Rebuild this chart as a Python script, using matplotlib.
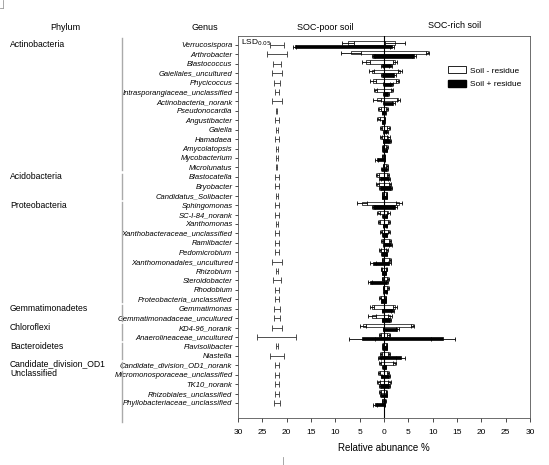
import matplotlib
matplotlib.use("Agg")
import matplotlib.pyplot as plt
import matplotlib.transforms as mtransforms
from matplotlib.patches import Patch
from matplotlib.lines import Line2D
import numpy as np

plt.rcParams['font.family'] = ['Liberation Sans', 'DejaVu Sans']

genera = ["Verrucosispora", "Arthrobacter", "Blastococcus", "Gaiellales_uncultured",
          "Phycicoccus", "Intrasporangiaceae_unclassified", "Actinobacteria_norank",
          "Pseudonocardia", "Angustibacter", "Gaiella", "Hamadaea", "Amycolatopsis",
          "Mycobacterium", "Microlunatus", "Blastocatella", "Bryobacter",
          "Candidatus_Solibacter", "Sphingomonas", "SC-I-84_norank", "Xanthomonas",
          "Xanthobacteraceae_unclassified", "Ramlibacter", "Pedomicrobium",
          "Xanthomonadales_uncultured", "Rhizobium", "Steroidobacter", "Rhodobium",
          "Proteobacteria_unclassified", "Gemmatimonas", "Gemmatimonadaceae_uncultured",
          "KD4-96_norank", "Anaerolineaceae_uncultured", "Flavisolibacter", "Niastella",
          "Candidate_division_OD1_norank", "Micromonosporaceae_unclassified", "TK10_norank",
          "Rhizobiales_unclassified", "Phyllobacteriaceae_unclassified"]

phyla = ["Actinobacteria", "Acidobacteria", "Proteobacteria", "Gemmatimonadetes",
         "Chloroflexi", "Bacteroidetes", "Candidate_division_OD1", "Unclassified"]
phylum_sizes = [14, 3, 11, 2, 2, 2, 1, 4]

# Soil - residue (white): SOC-poor (left) and SOC-rich (right)
white_poor = [7.4, 6.8, 3.7, 2.5, 2.3, 1.8, 1.4, 1.0, 1.2, 0.6, 0.6, 0.3, 0.4, 0.2,
              1.4, 1.4, 0.4, 4.5, 1.2, 1.0, 0.7, 0.5, 0.8, 0.4, 0.6, 0.4, 0.2, 0.9,
              2.5, 2.5, 4.3, 0.8, 0.3, 0.6, 0.8, 1.0, 1.2, 0.9, 0.4]
white_poor_err = [1.2, 2.0, 0.8, 0.5, 0.6, 0.3, 0.8, 0.3, 0.3, 0.2, 0.2, 0.1, 0.1, 0.1,
                  0.3, 0.3, 0.1, 1.0, 0.3, 0.2, 0.2, 0.2, 0.2, 0.1, 0.1, 0.1, 0.1, 0.2,
                  0.4, 0.8, 0.6, 0.2, 0.1, 0.2, 0.2, 0.2, 0.3, 0.2, 0.1]
white_rich = [2.3, 9.0, 2.3, 3.3, 2.8, 1.6, 2.9, 0.6, 0.2, 1.0, 0.9, 0.6, 0.2, 0.7,
              0.9, 1.2, 0.6, 3.1, 0.9, 1.0, 1.0, 1.2, 0.7, 1.2, 0.6, 0.9, 0.9, 0.4,
              2.3, 1.2, 5.9, 1.0, 0.6, 1.0, 2.2, 0.8, 1.2, 0.5, 0.3]
white_rich_err = [2.0, 0.3, 0.4, 0.5, 0.3, 0.2, 0.3, 0.2, 0.1, 0.3, 0.3, 0.2, 0.1, 0.2,
                  0.2, 0.2, 0.1, 0.6, 0.3, 0.2, 0.2, 0.2, 0.2, 0.2, 0.1, 0.2, 0.2, 0.1,
                  0.4, 0.4, 0.3, 0.3, 0.1, 0.2, 0.3, 0.2, 0.3, 0.1, 0.1]

# Soil + residue (black)
black_poor = [18.3, 2.2, 0.4, 0.4, 0.1, 0.1, 0.1, 0.4, 0.4, 0.1, 0.2, 0.3, 1.5, 0.5,
              0.8, 0.8, 0.4, 2.2, 0.3, 0.2, 0.3, 0.1, 0.5, 2.3, 0.4, 2.9, 0.1, 0.6,
              0.4, 0.4, 0.2, 4.5, 0.3, 1.0, 0.3, 0.6, 0.8, 0.7, 1.8]
black_poor_err = [0.3, 0.3, 0.2, 0.2, 0.1, 0.1, 0.1, 0.1, 0.1, 0.1, 0.1, 0.1, 0.3, 0.1,
                  0.2, 0.2, 0.1, 0.3, 0.1, 0.1, 0.1, 0.1, 0.1, 0.6, 0.1, 0.4, 0.1, 0.1,
                  0.1, 0.1, 0.1, 2.7, 0.1, 0.3, 0.1, 0.1, 0.2, 0.1, 0.4]
black_rich = [1.6, 6.2, 1.4, 2.1, 1.6, 0.8, 1.9, 0.3, 0.1, 0.7, 1.2, 0.6, 0.2, 0.7,
              1.1, 1.4, 0.6, 2.3, 0.6, 0.6, 0.6, 1.4, 0.6, 1.1, 0.4, 0.7, 0.6, 0.4,
              1.8, 1.2, 2.7, 12.1, 0.6, 3.4, 0.4, 1.0, 1.0, 0.6, 0.2]
black_rich_err = [0.4, 0.4, 0.3, 0.3, 0.3, 0.2, 0.3, 0.1, 0.1, 0.2, 0.3, 0.1, 0.1, 0.2,
                  0.2, 0.2, 0.1, 0.4, 0.1, 0.1, 0.1, 0.3, 0.1, 0.3, 0.1, 0.2, 0.1, 0.1,
                  0.3, 0.2, 0.3, 2.5, 0.1, 1.0, 0.1, 0.2, 0.2, 0.1, 0.1]

# LSD(0.05) half-widths
lsd_half = [1.5, 2.0, 0.9, 1.0, 0.7, 0.35, 1.0, 0.1, 0.5, 0.2, 0.5, 0.2, 0.2, 0.1,
            0.5, 0.5, 0.2, 0.5, 0.4, 0.15, 0.4, 0.5, 0.5, 1.0, 0.2, 0.8, 0.4, 0.5,
            0.6, 0.7, 1.1, 4.0, 0.15, 1.4, 0.5, 0.5, 0.5, 0.35, 0.6]
lsd_center = -22

xticks = [-30, -25, -20, -15, -10, -5, 0, 5, 10, 15, 20, 25, 30]
xticklabels = ["30", "25", "20", "15", "10", "5", "0", "5", "10", "15", "20", "25", "30"]

W, H = 549, 465
fig = plt.figure(figsize=(W / 100, H / 100), dpi=100)
ax = fig.add_axes([238 / W, 1 - 418 / H, (530 - 238) / W, (418 - 36) / H])

n = len(genera)
y = np.arange(n)
off = 0.19
bh = 0.36

wp = np.array(white_poor); wr = np.array(white_rich)
bp = np.array(black_poor); br = np.array(black_rich)

ebkw = dict(fmt='none', ecolor='black', elinewidth=0.6, capsize=1.5, capthick=0.6)

ax.barh(y - off, wp + wr, left=-wp, height=bh, color='white', edgecolor='black',
        linewidth=0.5, zorder=2)
ax.errorbar(-wp, y - off, xerr=white_poor_err, zorder=3, **ebkw)
ax.errorbar(wr, y - off, xerr=white_rich_err, zorder=3, **ebkw)

ax.barh(y + off, bp + br, left=-bp, height=bh, color='black', edgecolor='black',
        linewidth=0.5, zorder=2)
ax.errorbar(-bp, y + off, xerr=black_poor_err, zorder=3, **ebkw)
ax.errorbar(br, y + off, xerr=black_rich_err, zorder=3, **ebkw)

ax.errorbar(np.full(n, lsd_center), y, xerr=lsd_half, fmt='none', ecolor='#333333',
            elinewidth=0.6, capsize=2, capthick=0.6, zorder=3)

ax.axvline(0, color='black', lw=0.8, zorder=4)

ax.set_xlim(-30, 30)
ax.set_ylim(n - 1 + 1.6, -0.95)
ax.set_xticks(xticks)
ax.set_xticklabels(xticklabels, fontsize=6)
ax.set_yticks(y)
ax.set_yticklabels(genera, fontsize=5.5, style='italic')
ax.tick_params(axis='y', length=2.5, width=0.5, pad=1.5)
ax.tick_params(axis='x', length=3, width=0.5, pad=5)
for s in ax.spines.values():
    s.set_linewidth(0.6)
    s.set_color('#555555')
ax.set_xlabel("Relative abunance %", fontsize=7, labelpad=5)

ax.text(0.01, 0.995, r"LSD$_{0.05}$", transform=ax.transAxes, fontsize=6,
        va='top', ha='left')

# legend
handles = [Patch(facecolor='white', edgecolor='black', linewidth=0.6, label='Soil - residue'),
           Patch(facecolor='black', edgecolor='black', label='Soil + residue')]
fig.legend(handles=handles, loc='upper left', bbox_to_anchor=(440 / W, 1 - 59 / H),
           frameon=False, fontsize=6, handlelength=2.2, handleheight=0.9,
           labelspacing=0.6, handletextpad=0.5, borderpad=0.4)

# headers
fig.text(65 / W, 1 - 27 / H, "Phylum", fontsize=6.5, ha='center', va='center')
fig.text(205 / W, 1 - 27 / H, "Genus", fontsize=6.5, ha='center', va='center')
fig.text(325 / W, 1 - 27 / H, "SOC-poor soil", fontsize=6.5, ha='center', va='center')
fig.text(455 / W, 1 - 25 / H, "SOC-rich soil", fontsize=6.5, ha='center', va='center')

# phylum labels and group lines
blend = mtransforms.blended_transform_factory(fig.transFigure, ax.transData)
start = 0
for i, (p, sz) in enumerate(zip(phyla, phylum_sizes)):
    ly = start
    if p == "Candidate_division_OD1":
        ly = start - 0.2
    elif p == "Unclassified":
        ly = start - 0.1
    fig.text(10 / W, ly, p, fontsize=6.2, ha='left', va='center', transform=blend)
    y0 = start - 0.7 if i == 0 else start - 0.35
    y1 = start + sz - 1 + 0.3
    if i == len(phyla) - 1:
        y1 = start + sz - 1 + 2.0
    fig.add_artist(Line2D([122 / W, 122 / W], [y0, y1], transform=blend,
                          color='#aaaaaa', lw=1.0))
    start += sz

# stray marks
fig.add_artist(Line2D([3 / W, 3 / W], [1, 1 - 8 / H], color='#999999', lw=0.6))
fig.add_artist(Line2D([0, 3 / W], [1 - 8 / H, 1 - 8 / H], color='#999999', lw=0.6))
fig.add_artist(Line2D([283 / W, 283 / W], [0, 8 / H], color='#999999', lw=0.6))

fig.savefig("out.png", dpi=100)
